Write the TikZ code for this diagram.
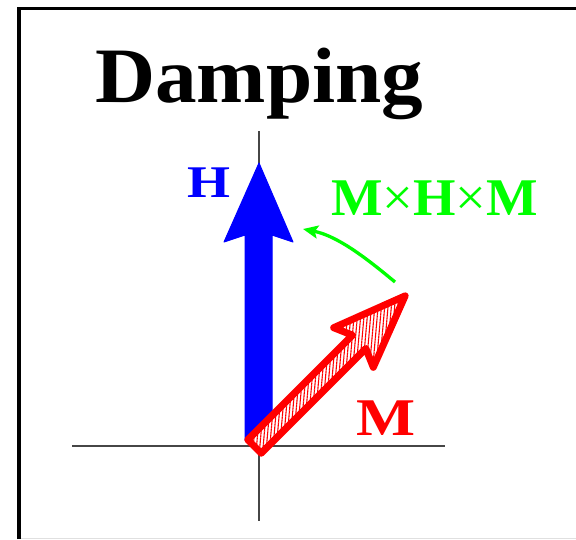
\documentclass[tikz,border=0pt]{standalone}
\usepackage{fontspec}
\setmainfont{Liberation Serif}
\usetikzlibrary{arrows.meta,patterns.meta}
\definecolor{pureblue}{RGB}{0,0,255}
\definecolor{purered}{RGB}{255,0,0}
\definecolor{puregreen}{RGB}{0,255,0}
\definecolor{axisgray}{RGB}{70,70,70}
\tikzset{
  lbl/.style={inner sep=0pt, anchor=base west, font=\bfseries},
  axisline/.style={draw=axisgray, line width=1.3pt},
}
\begin{document}
\begin{tikzpicture}[x=1pt,y=-1pt]
\useasboundingbox (0,0) rectangle (576,539);
\fill[white] (0,0) rectangle (576,539);
% frame
\draw[black!12, line width=1pt] (18,538) -- (576,538);
\draw[black, line width=3.3pt] (19,539) -- (19,8.5) -- (576,8.5);
% title
\node[lbl, xscale=1.06] (title) at (95,102) {\fontsize{78.5}{80}\selectfont Damping};
% axes
\coordinate (o) at (259,446);
\coordinate (xl) at (72,446);
\coordinate (xr) at (445,446);
\coordinate (yt) at (259,131);
\coordinate (yb) at (259,521);
\draw[axisline] (xl) -- (xr);
\draw[axisline] (yt) -- (yb);
% H arrow
\fill[pureblue, draw=pureblue, line width=1pt, line join=round]
  (245,440) -- (245,235) -- (224,242) -- (259,163) -- (293,242) -- (272,235) -- (272,440) -- cycle;
\node[lbl, text=pureblue, xscale=1.22] (H) at (187,197) {\fontsize{45.3}{46}\selectfont H};
% M arrow
\begin{scope}[shift={(254.5,446.5)}, rotate=45]
\draw[purered, line width=7pt, line join=round,
      preaction={fill=white},
      pattern={Lines[angle=-95,distance=3.3pt,line width=1.1pt]}, pattern color=purered]
  (0,-9.5) -- (148,-9.5) -- (140,-28) -- (213,0) -- (140,28) -- (148,9.5) -- (0,9.5) -- cycle;
\end{scope}
\node[lbl, text=purered, xscale=1.18] (M) at (356,435) {\fontsize{53}{54}\selectfont M};
% damping arc
\coordinate (gs) at (395,282);
\coordinate (ge) at (303,229);
\draw[puregreen, line width=3.3pt, -{Stealth[length=15pt,width=13pt,inset=3pt]}]
  (gs) .. controls (367.5,259.1) and (338.1,236.1) .. (ge);
\node[lbl, text=puregreen, xscale=1.03] (MHM) at (331,215) {\fontsize{53}{54}\selectfont M{\mdseries ×}H{\mdseries ×}M};
\end{tikzpicture}
\end{document}
